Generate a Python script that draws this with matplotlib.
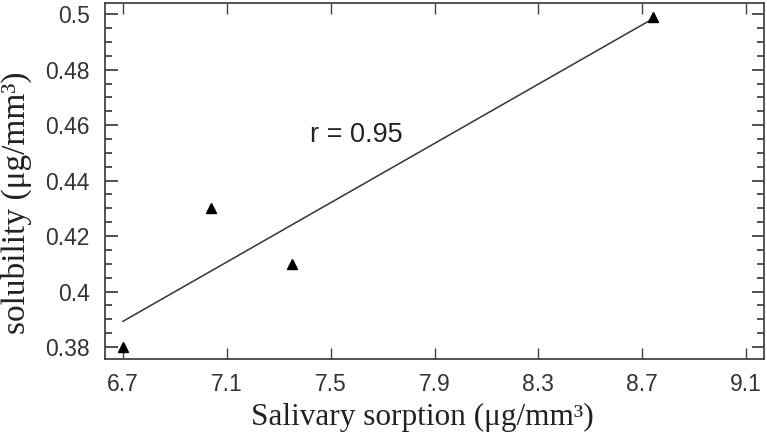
import numpy as np
import matplotlib
matplotlib.use("Agg")
import matplotlib.pyplot as plt
from matplotlib.ticker import MultipleLocator, FuncFormatter

# data
sorption = [6.70, 7.04, 7.35, 8.74]
solubility = [0.380, 0.430, 0.410, 0.499]
x_ticks = [6.7, 7.1, 7.5, 7.9, 8.3, 8.7, 9.1]
y_ticks = [0.38, 0.40, 0.42, 0.44, 0.46, 0.48, 0.50]
r_label = "r = 0.95"

fig = plt.figure(figsize=(7.67, 4.42), dpi=100)
ax = fig.add_axes([0.137, 0.188, 0.859, 0.805])

# regression line over the data range
slope, icept = np.polyfit(sorption, solubility, 1)
xl = np.array([min(sorption), max(sorption)])
ax.plot(xl, slope * xl + icept, color="#333333", lw=1.1)

ax.plot(sorption, solubility, linestyle="none", marker="^", color="black",
        markersize=7, clip_on=False, zorder=3)

ax.text(7.42, 0.4565, r_label, fontsize=19.5, family="Liberation Sans",
        color="#222222", va="center")

ax.set_xlim(6.631, 9.169)
ax.set_ylim(0.3757, 0.504)
ax.set_xticks(x_ticks)
ax.set_yticks(y_ticks)
ax.yaxis.set_minor_locator(MultipleLocator(0.005))
fmt = FuncFormatter(lambda v, p: "%g" % round(v, 3))
ax.xaxis.set_major_formatter(fmt)
ax.yaxis.set_major_formatter(fmt)

ax.tick_params(which="both", direction="in", top=True, right=True,
               color="#444444", width=1.3)
ax.tick_params(which="major", length=9)
ax.tick_params(which="minor", length=5)
ax.tick_params(axis="x", which="major", length=8, width=1.0, pad=10)
ax.tick_params(axis="y", pad=11)
for lab in ax.get_xticklabels() + ax.get_yticklabels():
    lab.set_family("Liberation Sans")
    lab.set_fontsize(16.5)
    lab.set_color("#333333")

for sp in ax.spines.values():
    sp.set_color("#444444")
    sp.set_linewidth(1.3)

ax.set_xlabel("Salivary sorption (μg/mm³)", family="Liberation Serif",
              fontsize=22.5, color="#222222")
ax.set_ylabel("solubility (μg/mm³)", family="Liberation Serif",
              fontsize=24, color="#222222")
ax.xaxis.set_label_coords(0.481, -0.125)
ax.yaxis.set_label_coords(-0.111, 0.44)

fig.savefig("out.png", dpi=100)
